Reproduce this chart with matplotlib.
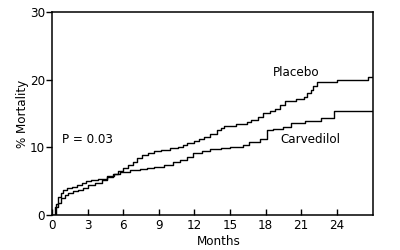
import matplotlib.pyplot as plt
from matplotlib import font_manager

# Kaplan-Meier style cumulative mortality (%)
placebo_months = [0, 0.25, 0.5, 0.8, 1.1, 1.37, 1.8, 2.2, 2.6, 3.06, 3.6, 4.2, 4.6, 5.1, 5.6, 6.0,
                  6.4, 6.8, 7.16, 7.6, 8.1, 8.56, 9.2, 9.97, 10.6, 11.0, 11.4, 12.0, 12.4, 12.8,
                  13.3, 13.9, 14.2, 14.5, 15.5, 16.4, 16.8, 17.4, 17.8, 18.4, 18.8, 19.2, 19.6,
                  20.6, 21.2, 21.5, 21.8, 22.0, 22.3, 24.0, 26.6, 27.05]
placebo_pct = [0, 1.2, 1.8, 2.5, 2.9, 3.2, 3.5, 3.7, 4.0, 4.4, 4.8, 5.1, 5.6, 6.1, 6.5, 7.0,
               7.4, 7.9, 8.4, 8.8, 9.1, 9.4, 9.6, 9.85, 10.1, 10.4, 10.6, 11.0, 11.3, 11.6,
               12.0, 12.5, 12.9, 13.1, 13.4, 13.7, 14.0, 14.5, 15.0, 15.3, 15.7, 16.3, 16.8,
               17.1, 17.5, 18.0, 18.5, 19.0, 19.6, 19.9, 20.4, 20.4]

carvedilol_months = [0, 0.3, 0.53, 0.75, 0.95, 1.3, 1.65, 2.1, 2.5, 2.9, 3.3, 3.9, 4.6, 5.2, 5.75,
                     6.6, 7.44, 8.0, 8.56, 9.4, 10.2, 10.8, 11.4, 11.9, 12.6, 13.3, 14.2, 15.0,
                     16.1, 16.6, 17.5, 18.1, 18.6, 19.5, 20.1, 21.3, 22.7, 23.8, 27.05]
carvedilol_pct = [0, 1.6, 2.7, 3.2, 3.7, 4.0, 4.2, 4.5, 4.8, 5.0, 5.1, 5.3, 5.7, 6.1, 6.4,
                  6.6, 6.8, 7.0, 7.1, 7.4, 7.9, 8.2, 8.6, 9.1, 9.4, 9.7, 9.85, 10.1,
                  10.3, 10.8, 11.3, 12.5, 12.7, 13.0, 13.6, 13.9, 14.3, 15.4, 15.4]

x_ticks = [0, 3, 6, 9, 12, 15, 18, 21, 24]
y_ticks = [0, 10, 20, 30]

# narrow face if one is around, otherwise plain sans
names = {f.name for f in font_manager.fontManager.ttflist}
narrow = [n for n in ['Liberation Sans Narrow', 'DejaVu Sans Condensed'] if n in names]
plt.rcParams['font.family'] = narrow + ['DejaVu Sans']
plt.rcParams['font.stretch'] = 'condensed'

fig = plt.figure(figsize=(4, 2.5), dpi=100)
ax = fig.add_axes([0.13, 0.14, 0.8025, 0.812])

ax.plot(placebo_months, placebo_pct, drawstyle='steps-post', color='black', lw=1.0)
ax.plot(carvedilol_months, carvedilol_pct, drawstyle='steps-post', color='black', lw=1.0)

ax.set_xlim(0, 27.05)
ax.set_ylim(0, 30)
ax.set_xticks(x_ticks)
ax.set_yticks(y_ticks)
ax.tick_params(axis='x', direction='in', length=4, width=1, labelsize=9.5, pad=3)
ax.tick_params(axis='y', direction='out', length=4, width=1, labelsize=9.5, pad=1)
for s in ax.spines.values():
    s.set_linewidth(1.1)

ax.set_xlabel('Months', fontsize=9.5, labelpad=0)
ax.xaxis.set_label_coords(0.52, -0.1)
ax.set_ylabel('% Mortality', fontsize=9.5, labelpad=1)

ax.text(20.6, 21.0, 'Placebo', fontsize=9.5, ha='center', va='center')
ax.text(21.8, 11.2, 'Carvedilol', fontsize=9.5, ha='center', va='center')
ax.text(0.85, 11.2, 'P = 0.03', fontsize=9.5, ha='left', va='center')

fig.savefig('out.png', dpi=100)
